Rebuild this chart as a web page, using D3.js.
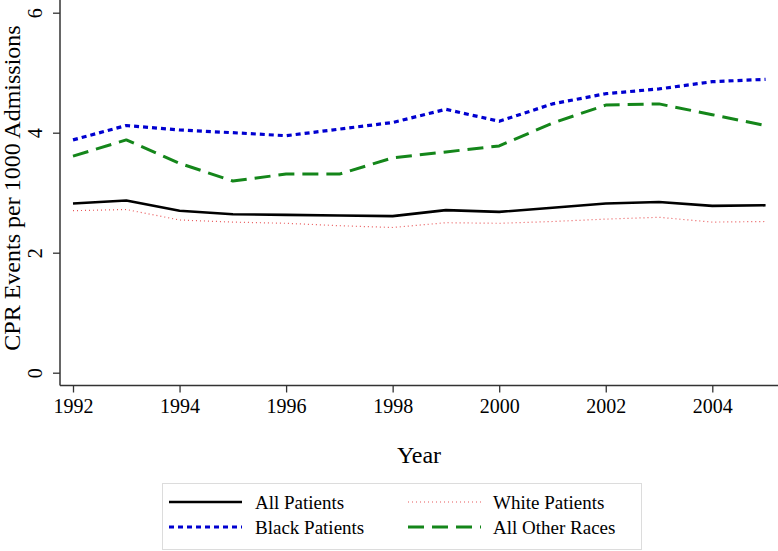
<!DOCTYPE html>
<html><head><meta charset="utf-8">
<script src="https://cdn.jsdelivr.net/npm/d3@7"></script>
<style>body{margin:0;background:#fff}svg{display:block}svg text{font-family:"Liberation Serif","Times New Roman",serif !important}</style>
</head><body><svg id="c" width="778" height="551"></svg>
<script>
const years = [1992,1993,1994,1995,1996,1997,1998,1999,2000,2001,2002,2003,2004,2005];
const allPatients   = [2.82,2.87,2.70,2.64,2.63,2.62,2.61,2.71,2.68,2.75,2.82,2.845,2.78,2.79];
const whitePatients = [2.70,2.72,2.545,2.51,2.49,2.45,2.42,2.50,2.49,2.52,2.56,2.59,2.51,2.52];
const blackPatients = [3.88,4.12,4.045,4.00,3.95,4.06,4.17,4.39,4.19,4.48,4.65,4.73,4.85,4.89];
const otherRaces    = [3.61,3.88,3.49,3.195,3.31,3.31,3.58,3.68,3.78,4.16,4.46,4.48,4.30,4.12];
const xTicks = [1992,1994,1996,1998,2000,2002,2004];
const yTicks = [0,2,4,6];
const seriesNames = ["All Patients","White Patients","Black Patients","All Other Races"];

const series = [
  {name:seriesNames[0], values:allPatients,   color:"#000000", width:2.6, dash:null},
  {name:seriesNames[1], values:whitePatients, color:"#e8585a", width:1.2, dash:"1,3"},
  {name:seriesNames[2], values:blackPatients, color:"#0000d0", width:3.2, dash:"5,4"},
  {name:seriesNames[3], values:otherRaces,    color:"#14861a", width:3,   dash:"16,8"}
];

const FONT = '"Liberation Serif","Times New Roman",serif';
const svg = d3.select("#c");
const x = d3.scaleLinear().domain([1992,2004]).range([73,712.3]);
const y = d3.scaleLinear().domain([0,6]).range([372.7,12.7]);
const axisColor = "#333";

// axes lines
svg.append("line").attr("x1",60).attr("x2",60).attr("y1",0).attr("y2",385.5)
  .attr("stroke",axisColor).attr("stroke-width",1.5);
svg.append("line").attr("x1",60).attr("x2",778).attr("y1",385.5).attr("y2",385.5)
  .attr("stroke",axisColor).attr("stroke-width",1.5);

// x axis
const xg = svg.append("g").attr("transform","translate(0,385.5)")
  .call(d3.axisBottom(x).tickValues(xTicks).tickFormat(d3.format("d")).tickSize(7).tickSizeOuter(0).tickPadding(6));
xg.attr("font-family",FONT);
xg.select(".domain").remove();
xg.selectAll(".tick line").attr("stroke",axisColor).attr("stroke-width",1.3);
xg.selectAll(".tick text").attr("font-size",20).attr("fill","#000").style("font-family",FONT);

// y axis
const yg = svg.append("g").attr("transform","translate(60,0)")
  .call(d3.axisLeft(y).tickValues(yTicks).tickFormat(d3.format("d")).tickSize(7).tickSizeOuter(0));
yg.attr("font-family",FONT);
yg.select(".domain").remove();
yg.selectAll(".tick line").attr("stroke",axisColor).attr("stroke-width",1.3);
yg.selectAll(".tick text").attr("font-size",20).attr("fill","#000").style("font-family",FONT)
  .attr("text-anchor","middle").attr("dy",null)
  .attr("x",0).attr("y",0).attr("transform","translate(-18,0) rotate(-90)");

// titles
svg.append("text").attr("x",419).attr("y",463).attr("text-anchor","middle")
  .attr("font-size",24).style("font-family",FONT).text("Year");
svg.append("text").attr("transform","translate(20,188) rotate(-90)").attr("text-anchor","middle")
  .attr("font-size",24).style("font-family",FONT).text("CPR Events per 1000 Admissions");

// lines
const line = d3.line().x((d,i)=>x(years[i])).y(d=>y(d));
const drawOrder = [series[1],series[0],series[3],series[2]];
drawOrder.forEach(s=>{
  svg.append("path").datum(s.values).attr("d",line).attr("fill","none")
    .attr("stroke",s.color).attr("stroke-width",s.width)
    .attr("stroke-dasharray",s.dash).attr("stroke-linejoin","round");
});

// legend
svg.append("rect").attr("x",162.5).attr("y",483.5).attr("width",479).attr("height",66)
  .attr("fill","#fff").attr("stroke","#dcdcdc").attr("stroke-width",1);
const legendPos = [
  {s:series[0], lx:169, tx:255, ly:502},
  {s:series[1], lx:408, tx:493, ly:502},
  {s:series[2], lx:169, tx:255, ly:527},
  {s:series[3], lx:408, tx:493, ly:527}
];
legendPos.forEach(p=>{
  svg.append("line").attr("x1",p.lx).attr("x2",p.lx+73).attr("y1",p.ly).attr("y2",p.ly)
    .attr("stroke",p.s.color).attr("stroke-width",p.s.width).attr("stroke-dasharray",p.s.dash);
  svg.append("text").attr("x",p.tx).attr("y",p.ly+7).attr("font-size",19).style("font-family",FONT).text(p.s.name);
});
</script></body></html>
